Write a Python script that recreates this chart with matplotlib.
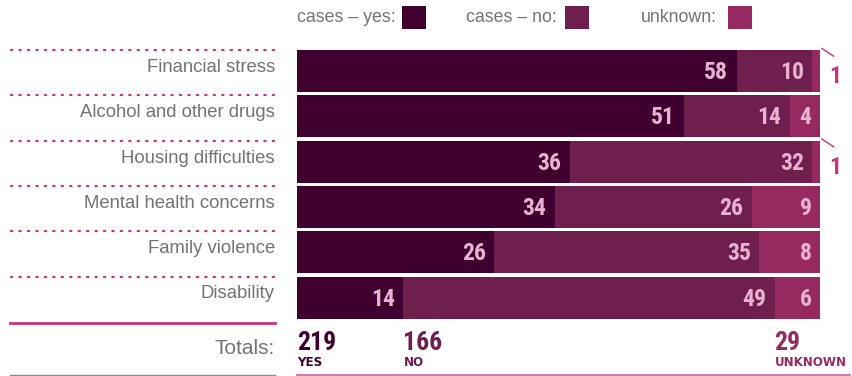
import numpy as np
import matplotlib.pyplot as plt

plt.rcParams['font.family'] = ['Liberation Sans', 'DejaVu Sans']

# --- data ---
categories = ['Financial stress', 'Alcohol and other drugs', 'Housing difficulties',
              'Mental health concerns', 'Family violence', 'Disability']
cases_yes = [58, 51, 36, 34, 26, 14]
cases_no = [10, 14, 32, 26, 35, 49]
unknown = [1, 4, 1, 9, 8, 6]
legend_labels = ['cases \u2013 yes:', 'cases \u2013 no:', 'unknown:']
total_labels = ['YES', 'NO', 'UNKNOWN']

# --- colours ---
c_yes = '#3f0030'
c_no = '#6e1f4d'
c_unk = '#962a60'
c_num = '#eab2d2'
c_pink = '#c8357a'
c_grey = '#707377'

W, H = 853, 376
fig = plt.figure(figsize=(W / 100, H / 100), dpi=100)


def fx(x):
    return x / W


def fy(y):
    return 1 - y / H


# bar axes in pixel layout: x 297..820, y 48.5..320.5
top, pitch = 48.5, 45.3
n = len(categories)
ax = fig.add_axes([fx(297), fy(top + n * pitch), fx(820) - fx(297), n * pitch / H])
ax.set_xlim(0, 69)
ax.set_ylim(n - 0.5, -0.5)
ax.axis('off')

y = np.arange(n)
yes = np.array(cases_yes)
no = np.array(cases_no)
unk = np.array(unknown)
bh = 42 / pitch
ax.barh(y, yes, height=bh, color=c_yes, linewidth=0)
ax.barh(y, no, left=yes, height=bh, color=c_no, linewidth=0)
ax.barh(y, unk, left=yes + no, height=bh, color=c_unk, linewidth=0)

numfont = dict(family=['Roboto Condensed', 'Roboto', 'DejaVu Sans'], fontweight='bold')
pad = 1.1  # data units
for i in range(n):
    ends = [yes[i], yes[i] + no[i], yes[i] + no[i] + unk[i]]
    vals = [yes[i], no[i], unk[i]]
    for e, v in zip(ends, vals):
        if v >= 2:
            ax.text(e - pad, i + 0.03, str(v), ha='right', va='center',
                    color=c_num, fontsize=17, **numfont)
        else:
            # small segment: label outside with short leader line
            ax.plot([ends[2] + 0.25, ends[2] + 1.8], [i - 0.5, i - 0.33],
                    color=c_pink, lw=1, clip_on=False)
            ax.text(ends[2] + 1.2, i + 0.12, str(v), ha='left', va='center',
                    color=c_pink, fontsize=17, clip_on=False, **numfont)

# category labels and dotted separators
for i, cat in enumerate(categories):
    yt = top + i * pitch
    fig.add_artist(plt.Line2D([fx(11), fx(275)], [fy(yt + 1.5), fy(yt + 1.5)],
                              color=c_pink, lw=1.6, linestyle=(0, (0.6, 3.2)),
                              dash_capstyle='round'))
    fig.text(fx(275), fy(yt + 19), cat, ha='right', va='center',
             fontsize=13.3, color=c_grey)

# legend
leg_x = [297, 466, 641]
sq_x = [402, 565, 728]
for lab, lx, sx, col in zip(legend_labels, leg_x, sq_x, [c_yes, c_no, c_unk]):
    fig.text(fx(lx), fy(18), lab, ha='left', va='center', fontsize=12.8, color=c_grey)
    fig.add_artist(plt.Rectangle((fx(sx), fy(29)), fx(24), 23 / H,
                                 color=col, lw=0))

# totals row
fig.add_artist(plt.Line2D([fx(10), fx(275)], [fy(323), fy(323)], color=c_pink, lw=2))
fig.add_artist(plt.Line2D([fx(10), fx(275)], [fy(375), fy(375)], color='#8a8d90', lw=1))
fig.add_artist(plt.Line2D([fx(297), fx(850)], [fy(375), fy(375)], color='#d65f9c', lw=1.2))
fig.text(fx(275), fy(349), 'Totals:', ha='right', va='center', fontsize=15, color=c_grey)

totals = [yes.sum(), no.sum(), unk.sum()]
starts = [0, yes[-1], yes[-1] + no[-1]]
for t, s, lab, col in zip(totals, starts, total_labels, [c_yes, c_no, c_unk]):
    xp = 297 + s * 523 / 69
    fig.text(fx(xp), fy(350.5), str(t), ha='left', va='baseline',
             fontsize=18.5, color=col, **numfont)
    fig.text(fx(xp + 0.5), fy(366), lab, ha='left', va='baseline',
             fontsize=8.6, color=col, family='DejaVu Sans', fontweight='bold')

fig.savefig('out.png', dpi=100)
